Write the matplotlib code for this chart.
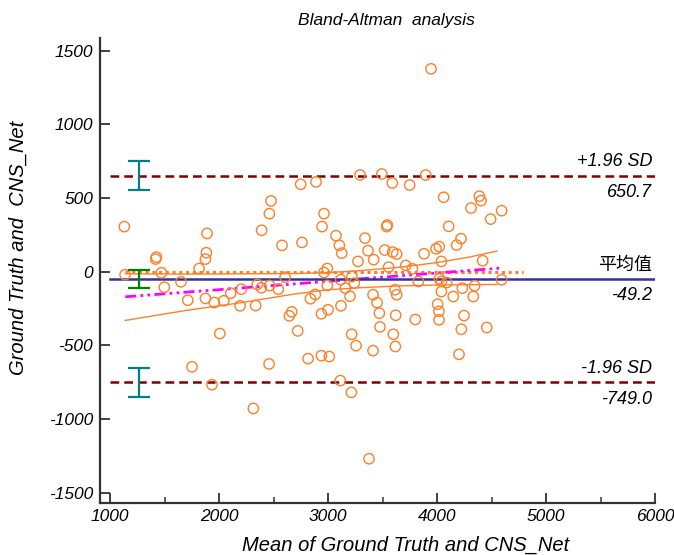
import matplotlib
matplotlib.use("Agg")
import matplotlib.pyplot as plt
from matplotlib.ticker import MultipleLocator

plt.rcParams["font.family"] = ["Liberation Sans", "Noto Sans CJK SC"]
plt.rcParams["font.style"] = "italic"
plt.rcParams["axes.unicode_minus"] = False

# mean of the two methods (x) and their difference (y)
mean_vals = [
    1131, 1890, 1425, 1419, 1884, 1875, 1817, 1471, 1138, 1498, 1651, 1713, 1875, 1957,
    2043, 2107, 2193, 2007, 1752, 1936,
    2749, 2890, 2477, 2462, 2963, 2945, 2391, 2578, 2761, 2994, 2963, 2606, 2351, 2388,
    2465, 2544, 2205, 2336, 2994, 2883, 2838, 3000, 2939, 2667, 2645, 2722, 2817, 2939,
    3012, 2459, 2315,
    3294, 3493, 3590, 3544, 3538, 3073, 3104, 3126, 3339, 3367, 3419, 3520, 3593, 3630,
    3275, 3556, 3220, 3241, 3116, 3159, 3202, 3413, 3450, 3119, 3471, 3615, 3630, 3621,
    3477, 3599, 3618, 3217, 3257, 3413, 3113, 3214,
    3896, 3749, 4061, 4107, 4220, 4180, 3881, 3991, 4021, 4040, 3713, 3774, 3829, 4021,
    4040, 4089, 4040, 4232, 4149, 4006, 4018, 4018, 3801, 4248, 4223, 4202,
    4388, 4404, 4312, 4593, 4492, 4419, 4593, 4345, 4333, 4456,
    3945, 3376,
]
diff_vals = [
    306, 260, 99, 86, 129, 86, 22, -7, -20, -105, -68, -193, -181, -209,
    -197, -145, -231, -419, -645, -766,
    593, 609, 480, 394, 394, 306, 281, 179, 199, 22, -5, -37, -86, -109,
    -93, -118, -118, -229, -93, -154, -183, -258, -285, -272, -299, -401, -589, -569,
    -575, -625, -927,
    656, 663, 602, 317, 306, 245, 179, 126, 228, 143, 82, 147, 133, 120,
    70, 31, -32, -77, -54, -111, -166, -156, -209, -231, -281, -122, -156, -295,
    -374, -424, -507, -424, -501, -535, -738, -818,
    656, 588, 505, 308, 224, 181, 122, 156, 170, 70, 43, 20, -66, -48,
    -66, -73, -134, -111, -168, -220, -268, -326, -324, -297, -390, -560,
    512, 482, 432, 414, 357, 75, -54, -95, -168, -378,
    1376, -1268,
]

mean_diff = -49.2
upper_loa = 650.7
lower_loa = -749.0

# confidence intervals of mean and limits (lo, hi)
mean_ci = (-107, 10)
upper_ci = (552, 749)
lower_ci = (-848, -651)
ci_x = 1266

# regression of difference on mean, and its confidence band
reg_x = [1140, 4590]
reg_y = [-170, 25]
band_x = [1140, 1700, 2200, 2700, 3000, 3300, 3650, 4000, 4300, 4550]
band_hi = [-14, -16, -14, -12, -6, 8, 30, 62, 100, 140]
band_lo = [-330, -262, -210, -150, -122, -108, -96, -90, -88, -86]
zero_x = [1140, 4790]

orange = "#FF7F27"

fig = plt.figure(figsize=(6.74, 5.55), dpi=100)
ax = fig.add_axes([100 / 674, 1 - 503 / 555, 555 / 674, 465 / 555])

ax.plot(zero_x, [0, 0], color=orange, lw=2.2, linestyle=(0, (1, 1.2)), zorder=2)
ax.plot(band_x, band_hi, color=orange, lw=1, zorder=2)
ax.plot(band_x, band_lo, color=orange, lw=1, zorder=2)
ax.plot(reg_x, reg_y, color="#FF00FF", lw=2,
        linestyle=(0, (4, 1.5, 1, 1.5, 1, 1.5)), zorder=3)

ax.plot([1000, 6000], [mean_diff] * 2, color="#333399", lw=1.8, zorder=3)
for v in (upper_loa, lower_loa):
    ax.plot([1000, 6000], [v, v], color="#800000", lw=1.8,
            linestyle=(0, (3.5, 2)), zorder=3)

ax.scatter(mean_vals, diff_vals, s=55, facecolors="none", edgecolors=orange,
           linewidths=1.0, zorder=4)

for (lo, hi), col in [(upper_ci, "#008080"), (mean_ci, "#008000"), (lower_ci, "#008080")]:
    mid = (lo + hi) / 2
    ax.errorbar([ci_x], [mid], yerr=[[mid - lo], [hi - mid]], fmt="none",
                ecolor=col, elinewidth=1.6, capsize=8, capthick=1.6, zorder=5)

labels = [
    (upper_loa, "+1.96 SD", "650.7"),
    (mean_diff, "平均值", "-49.2"),
    (lower_loa, "-1.96 SD", "-749.0"),
]
for v, above, below in labels:
    ax.annotate(above, xy=(6000, v), xytext=(-2, 4), textcoords="offset points",
                ha="right", va="bottom", fontsize=13)
    ax.annotate(below, xy=(6000, v), xytext=(-2, -6), textcoords="offset points",
                ha="right", va="top", fontsize=13)

ax.set_xlim(908, 6000)
ax.set_ylim(-1568, 1585)
ax.set_xticks([1000, 2000, 3000, 4000, 5000, 6000])
ax.set_yticks([-1500, -1000, -500, 0, 500, 1000, 1500])
ax.xaxis.set_minor_locator(MultipleLocator(500))
ax.tick_params(direction="in", length=7, width=1.3, labelsize=12.5,
               colors="#333333", labelcolor="black")
ax.tick_params(axis="x", which="minor", direction="in", length=4.5, width=1.1,
               colors="#333333")
ax.tick_params(axis="x", pad=4)
ax.tick_params(axis="y", pad=5)
for side in ("top", "right"):
    ax.spines[side].set_visible(False)
for side in ("left", "bottom"):
    ax.spines[side].set_linewidth(1.6)
    ax.spines[side].set_color("#333333")

fig.text(386 / 674, 1 - 20 / 555, "Bland-Altman  analysis", ha="center",
         va="center", fontsize=12.5)
fig.text(406 / 674, 1 - 545 / 555, "Mean of Ground Truth and CNS_Net",
         ha="center", va="center", fontsize=14.5)
fig.text(18 / 674, 1 - 248 / 555, "Ground Truth and  CNS_Net", ha="center",
         va="center", rotation=90, fontsize=14.5)

fig.savefig("out.png", dpi=100)
